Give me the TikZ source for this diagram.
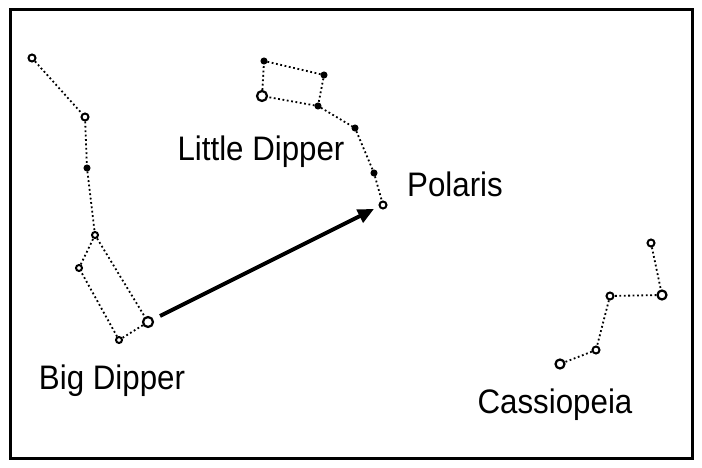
\documentclass[tikz,border=0pt]{standalone}
\usepackage{fontspec}
\setmainfont{Liberation Sans}
\usetikzlibrary{arrows.meta}
\begin{document}
\begin{tikzpicture}[x=1pt,y=-1pt,
  os/.style={circle,draw,line width=2pt,fill=white,inner sep=0pt,minimum size=7pt},
  bs/.style={circle,draw,line width=2.2pt,fill=white,inner sep=0pt,minimum size=10pt},
  fs/.style={circle,draw,fill=black,line width=1pt,inner sep=0pt,minimum size=6pt},
  con/.style={line width=1.8pt,dash pattern=on 1.8pt off 2.6pt},
  lab/.style={font=\fontsize{34}{34}\selectfont,xscale=0.92,inner sep=0pt}]
\useasboundingbox (0,0) rectangle (702,468);
\draw[line width=3pt] (10,10) rectangle (692,458);
% Big Dipper
\node[os] (b1) at (32,58) {};
\node[os] (b2) at (85,117) {};
\node[fs] (b3) at (87,168) {};
\node[os,minimum size=6pt] (b4) at (95,235) {};
\node[os,minimum size=6pt] (b5) at (79,268) {};
\node[os,minimum size=6pt] (b6) at (119,340) {};
\node[bs] (b7) at (148,322) {};
\draw[con] (b1)--(b2)--(b3)--(b4)--(b7)--(b6)--(b5)--(b4);
% Little Dipper
\node[fs] (l1) at (264,61) {};
\node[fs] (l2) at (324,75) {};
\node[bs] (l3) at (262,96) {};
\node[fs] (l4) at (318,106) {};
\node[fs] (l5) at (355,128) {};
\node[fs] (l6) at (374,173) {};
\node[os] (l7) at (383,205) {};
\draw[con] (l3)--(l1)--(l2)--(l4)--(l3);
\draw[con] (l4)--(l5)--(l6)--(l7);
% Cassiopeia
\node[os] (c1) at (651,243) {};
\node[bs,minimum size=9pt] (c2) at (662,295) {};
\node[os] (c3) at (610,296) {};
\node[os] (c4) at (596,350) {};
\node[bs,minimum size=9pt] (c5) at (560,364) {};
\draw[con] (c1)--(c2)--(c3)--(c4)--(c5);
% arrow
\coordinate (as) at (160,316);
\coordinate (ae) at (374,209);
\draw[line width=4pt,-{Triangle[length=16pt,width=14pt]}] (as)--(ae);
% labels
\node[lab] (tl) at (261,152) {Little Dipper};
\node[lab] (tp) at (455,184) {Polaris};
\node[lab] (tb) at (112,381) {Big Dipper};
\node[lab] (tc) at (555,405) {Cassiopeia};
\end{tikzpicture}
\end{document}
